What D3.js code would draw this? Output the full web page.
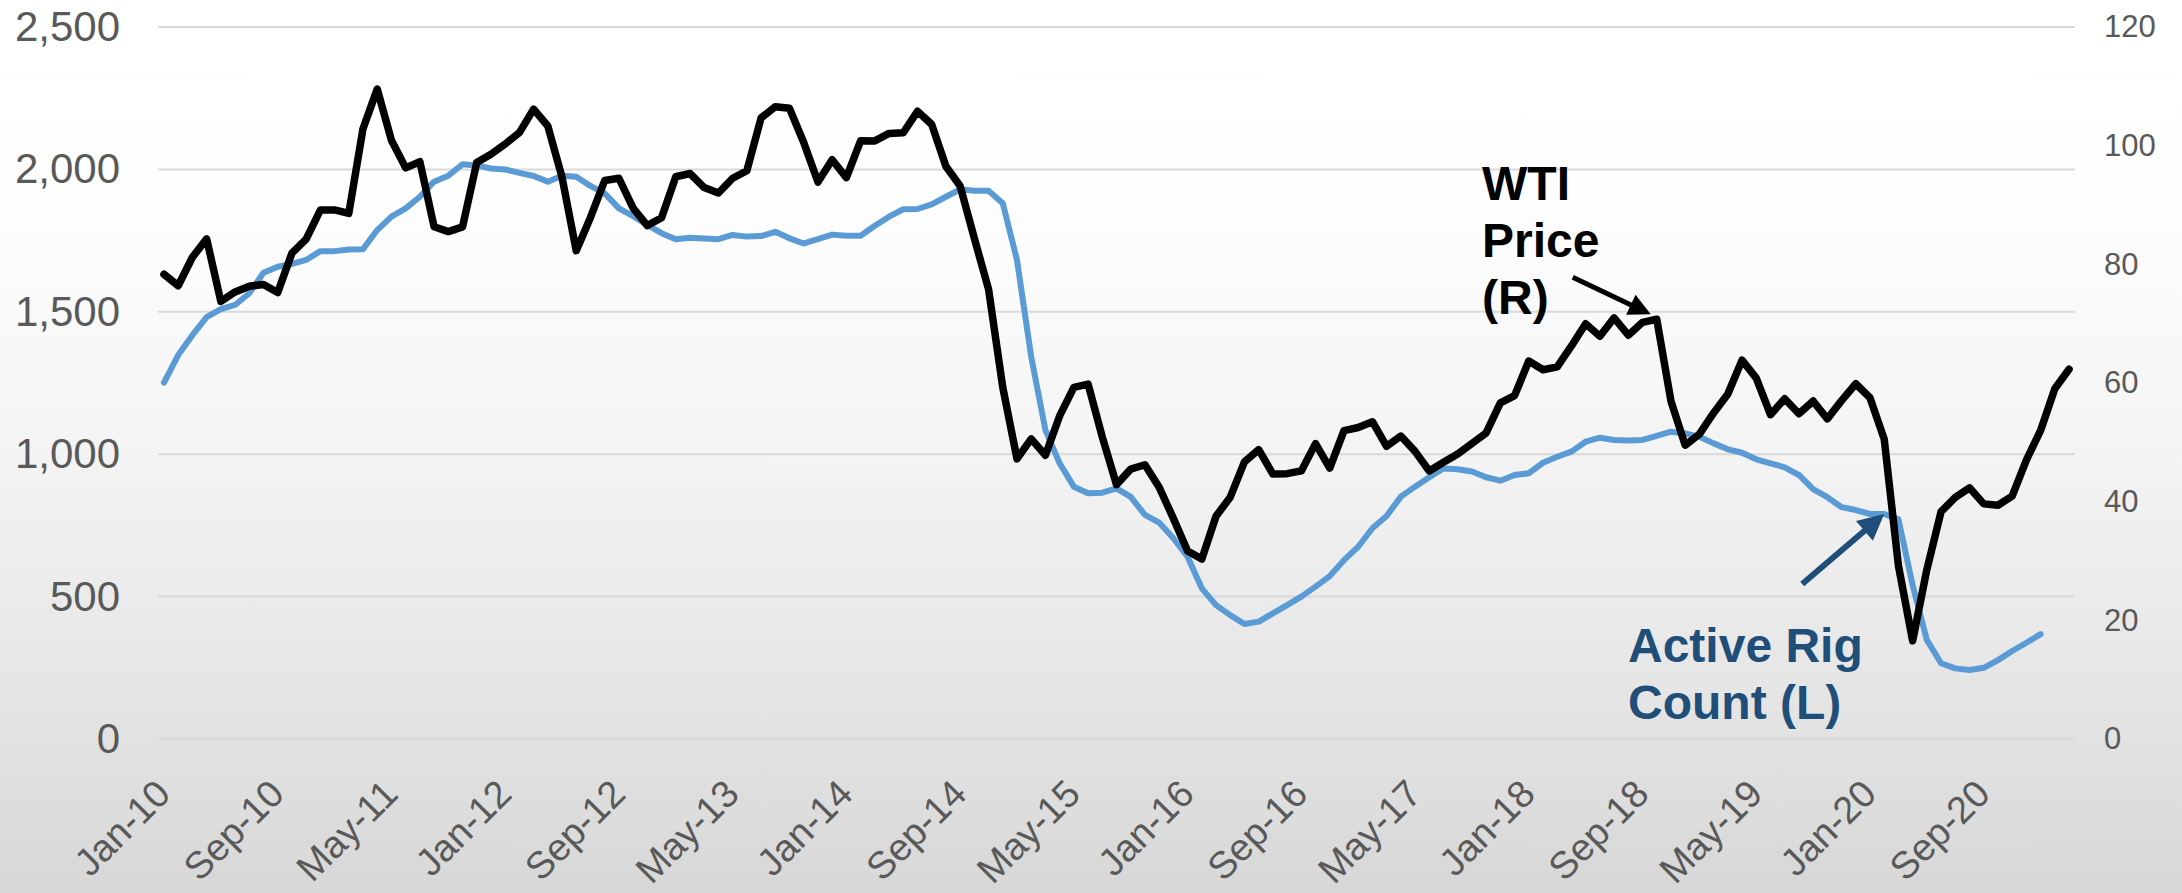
<!DOCTYPE html>
<html>
<head>
<meta charset="utf-8">
<script src="https://cdn.jsdelivr.net/npm/d3@7"></script>
<style>
  body { margin: 0; background: #fff; }
  svg { display: block; font-family: "Liberation Sans", Arial, sans-serif; }
</style>
</head>
<body>
<div id="chart"></div>
<script>
// WTI monthly price, $/bbl (right axis), Jan-10 .. Mar-21
const wtiPrice = [
  78.33, 76.39, 81.20, 84.29, 73.74, 75.34, 76.32, 76.60, 75.24, 81.89, 84.25, 89.15,
  89.17, 88.58, 102.86, 109.53, 100.90, 96.26, 97.30, 86.33, 85.52, 86.32, 97.16, 98.56,
  100.27, 102.20, 106.16, 103.32, 94.66, 82.30, 87.90, 94.13, 94.51, 89.49, 86.53, 87.86,
  94.76, 95.31, 92.94, 92.02, 94.51, 95.77, 104.67, 106.57, 106.29, 100.54, 93.86, 97.63,
  94.62, 100.82, 100.80, 102.07, 102.18, 105.79, 103.59, 96.54, 93.21, 84.40, 75.79, 59.29,
  47.22, 50.58, 47.82, 54.45, 59.27, 59.82, 50.90, 42.87, 45.48, 46.22, 42.44, 37.19,
  31.68, 30.32, 37.55, 40.75, 46.71, 48.76, 44.65, 44.72, 45.18, 49.78, 45.66, 51.97,
  52.50, 53.47, 49.33, 51.06, 48.48, 45.18, 46.63, 48.04, 49.82, 51.58, 56.64, 57.88,
  63.70, 62.23, 62.73, 66.25, 69.98, 67.87, 70.98, 68.06, 70.23, 70.75, 56.96, 49.52,
  51.38, 54.95, 58.15, 63.86, 60.83, 54.66, 57.35, 54.81, 56.95, 53.96, 57.03, 59.88,
  57.52, 50.54, 29.21, 16.55, 28.56, 38.31, 40.71, 42.34, 39.63, 39.40, 40.94, 47.02,
  52.00, 59.04, 62.33
];

// active rig count (left axis), Jan-10 .. Jan-21
const rigCount = [
  1251, 1348, 1418, 1481, 1509, 1524, 1565, 1637, 1658, 1668, 1682, 1713,
  1713, 1719, 1720, 1787, 1834, 1863, 1904, 1957, 1978, 2018, 2014, 2003,
  2000, 1988, 1977, 1957, 1978, 1974, 1942, 1916, 1863, 1836, 1805, 1776,
  1755, 1760, 1757, 1755, 1770, 1764, 1766, 1781, 1758, 1740, 1755, 1771,
  1767, 1767, 1802, 1834, 1860, 1861, 1877, 1904, 1930, 1925, 1925, 1881,
  1682, 1342, 1085, 968, 886, 863, 865, 880, 850, 787, 760, 705,
  640, 529, 470, 435, 404, 412, 441, 470, 500, 535, 572, 628,
  675, 740, 783, 851, 886, 919, 950, 947, 939, 919, 907, 927,
  933, 970, 991, 1009, 1044, 1058, 1050, 1048, 1050, 1064, 1079, 1073,
  1061, 1038, 1017, 1005, 982, 968, 954, 927, 877, 849, 814, 804,
  790, 790, 771, 540, 348, 266, 248, 242, 250, 277, 309, 338,
  368
];

const tickLabels = ["Jan-10", "Sep-10", "May-11", "Jan-12", "Sep-12", "May-13", "Jan-14", "Sep-14",
  "May-15", "Jan-16", "Sep-16", "May-17", "Jan-18", "Sep-18", "May-19", "Jan-20", "Sep-20"];
const leftTicks = [0, 500, 1000, 1500, 2000, 2500];
const rightTicks = [0, 20, 40, 60, 80, 100, 120];

const months = d3.timeMonth.range(new Date(2010, 0, 1), new Date(2021, 3, 1))
  .map(d3.timeFormat("%b-%y"));

const W = 2182, H = 893;
const plotLeft = 158, plotRight = 2075, plotTop = 27, plotBottom = 739;

const svg = d3.select("#chart").append("svg")
  .attr("width", W)
  .attr("height", H);

// soft grey background fade
const grad = svg.append("defs").append("linearGradient")
  .attr("id", "bg").attr("x1", 0).attr("y1", 0).attr("x2", 0).attr("y2", 1);
[[0, "#ffffff"], [0.22, "#fefefe"], [0.5, "#f4f4f4"], [0.78, "#e5e5e5"], [1, "#d7d7d7"]]
  .forEach(([o, c]) => grad.append("stop").attr("offset", o).attr("stop-color", c));
svg.append("rect").attr("width", W).attr("height", H).attr("fill", "url(#bg)");

const x = d3.scalePoint()
  .domain(months)
  .range([plotLeft, plotRight])
  .padding(0.42);

const yL = d3.scaleLinear().domain([0, 2500]).range([plotBottom, plotTop]);
const yR = d3.scaleLinear().domain([0, 120]).range([plotBottom, plotTop]);

// gridlines
svg.append("g")
  .selectAll("line")
  .data(leftTicks)
  .join("line")
  .attr("x1", plotLeft).attr("x2", plotRight)
  .attr("y1", d => yL(d)).attr("y2", d => yL(d))
  .attr("stroke", "#d9d9d9")
  .attr("stroke-width", 2);

const leftAxis = svg.append("g")
  .attr("transform", `translate(${plotLeft},0)`)
  .call(d3.axisLeft(yL).tickValues(leftTicks).tickFormat(d3.format(",")).tickSize(0).tickPadding(38));
leftAxis.select(".domain").remove();
leftAxis.selectAll("text")
  .attr("font-size", 42)
  .attr("font-family", "Liberation Sans, Arial, sans-serif")
  .attr("fill", "#595959");

const rightAxis = svg.append("g")
  .attr("transform", `translate(${plotRight},0)`)
  .call(d3.axisRight(yR).tickValues(rightTicks).tickSize(0).tickPadding(29));
rightAxis.select(".domain").remove();
rightAxis.selectAll("text")
  .attr("font-size", 31)
  .attr("font-family", "Liberation Sans, Arial, sans-serif")
  .attr("fill", "#595959");

const xAxis = svg.append("g")
  .attr("transform", `translate(0,${plotBottom})`)
  .call(d3.axisBottom(x).tickValues(tickLabels).tickSize(0));
xAxis.select(".domain").remove();
xAxis.selectAll("text")
  .attr("y", 0).attr("dy", 0)
  .attr("text-anchor", "end")
  .attr("transform", "translate(8,57) rotate(-45)")
  .attr("font-size", 38)
  .attr("font-family", "Liberation Sans, Arial, sans-serif")
  .attr("fill", "#595959");

// series
const rigLine = d3.line()
  .x((d, i) => x(months[i]))
  .y(d => yL(d));

const wtiLine = d3.line()
  .x((d, i) => x(months[i]))
  .y(d => yR(d));

svg.append("path")
  .datum(rigCount)
  .attr("fill", "none")
  .attr("stroke", "#5b9bd5")
  .attr("stroke-width", 6)
  .attr("stroke-linejoin", "round")
  .attr("stroke-linecap", "round")
  .attr("d", rigLine);

svg.append("path")
  .datum(wtiPrice)
  .attr("fill", "none")
  .attr("stroke", "#000")
  .attr("stroke-width", 7.5)
  .attr("stroke-linejoin", "round")
  .attr("stroke-linecap", "round")
  .attr("d", wtiLine);

// annotation arrows, tips anchored on the series
function arrow(tail, tip, color, width, head) {
  const dx = tip[0] - tail[0], dy = tip[1] - tail[1];
  const len = Math.hypot(dx, dy);
  const ux = dx / len, uy = dy / len;
  const bx = tip[0] - ux * head, by = tip[1] - uy * head;
  svg.append("line")
    .attr("x1", tail[0]).attr("y1", tail[1])
    .attr("x2", bx + ux * 2).attr("y2", by + uy * 2)
    .attr("stroke", color).attr("stroke-width", width);
  const hw = head * 0.5;
  svg.append("path")
    .attr("d", `M${tip[0]},${tip[1]} L${bx - uy * hw},${by + ux * hw} L${bx + uy * hw},${by - ux * hw} Z`)
    .attr("fill", color);
}

const wtiIdx = months.indexOf("Oct-18");
const wtiTip = [x(months[wtiIdx]) - 6, yR(wtiPrice[wtiIdx]) - 5];
arrow([wtiTip[0] - 78, wtiTip[1] - 37], wtiTip, "#000", 5, 22);

const rigIdx = months.indexOf("Feb-20");
const rigTip = [x(months[rigIdx]), yL(rigCount[rigIdx])];
arrow([rigTip[0] - 82, rigTip[1] + 70], rigTip, "#1f4e79", 6, 26);

// annotation labels
const wtiText = svg.append("text")
  .attr("font-size", 48)
  .attr("font-weight", "bold")
  .attr("fill", "#000");
["WTI", "Price", "(R)"].forEach((t, i) => {
  wtiText.append("tspan").attr("x", 1482).attr("y", 200 + i * 57).text(t);
});

const rigText = svg.append("text")
  .attr("font-size", 48)
  .attr("font-weight", "bold")
  .attr("fill", "#1f4e79");
["Active Rig", "Count (L)"].forEach((t, i) => {
  rigText.append("tspan").attr("x", 1628).attr("y", 662 + i * 57).text(t);
});
</script>
</body>
</html>
